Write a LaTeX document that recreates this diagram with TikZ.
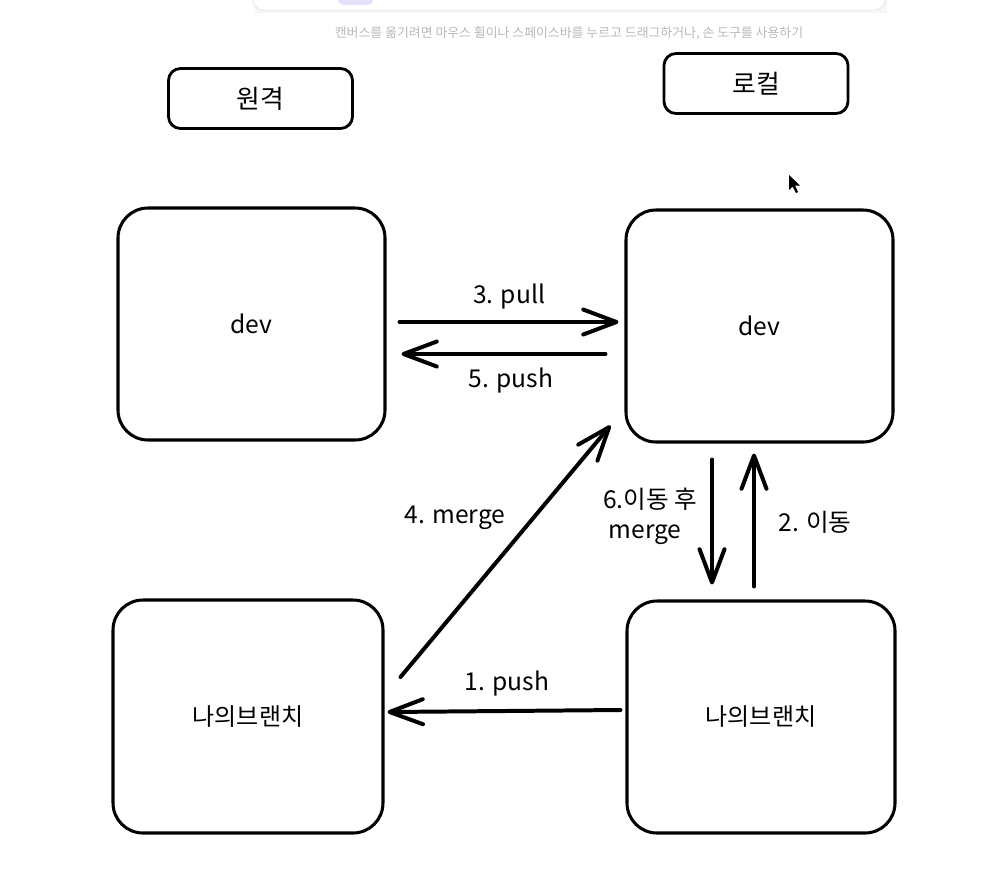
\documentclass[tikz,border=0pt]{standalone}
\usepackage{fontspec}
\setmainfont{Noto Sans CJK KR}
\usetikzlibrary{arrows.meta}
\newlength\pxu
\setlength\pxu{0.03cm}
\definecolor{hintgray}{HTML}{B8B8B8}
\definecolor{cardline}{HTML}{E8E8E8}
\definecolor{purp}{HTML}{E6E0FB}
\tikzset{
  bigbox/.style={draw=black, line width=2.6pt, rounded corners=0.9cm, inner sep=0pt, fill=white},
  smallbox/.style={draw=black, line width=2.4pt, rounded corners=0.36cm, inner sep=0pt, minimum width=184\pxu, minimum height=60\pxu},
  arr/.style={line width=3.4pt, line cap=round, -{Straight Barb[length=1.0cm, width=0.75cm, round]}},
  lbl/.style={inner sep=0pt, font=\fontsize{21pt}{24pt}\selectfont},
  boxtext/.style={font=\fontsize{20.5pt}{24pt}\selectfont},
  headtext/.style={font=\fontsize{22pt}{26pt}\selectfont}
}
\begin{document}
\begin{tikzpicture}[x=0.03cm, y=-0.03cm]
\useasboundingbox (0,0) rectangle (988,884);
% top UI card
\fill[black!3] (255,-20) rectangle (887,13);
\draw[cardline, line width=0.8pt, fill=white, rounded corners=0.3cm] (253,-20) rectangle (885,10);
\fill[purp, rounded corners=0.15cm] (338,-10) rectangle (373,5);
\node[text=hintgray, font=\fontsize{11pt}{13pt}\selectfont] (hint) at (569,33) {캔버스를 옮기려면 마우스 휠이나 스페이스바를 누르고 드래그하거나, 손 도구를 사용하기};
% header boxes
\node[smallbox, headtext] (remote) at (260.5,98.5) {원격};
\node[smallbox, headtext] (local) at (756,83.5) {로컬};
% main boxes
\node[bigbox, minimum width=267\pxu, minimum height=232\pxu, font=\fontsize{21pt}{24pt}\selectfont] (rdev) at (251.5,324) {dev};
\node[bigbox, minimum width=267\pxu, minimum height=232\pxu, font=\fontsize{21pt}{24pt}\selectfont] (ldev) at (759.5,326) {dev};
\node[bigbox, minimum width=270\pxu, minimum height=233\pxu, boxtext] (rbr) at (248,716.5) {나의브랜치};
\node[bigbox, minimum width=268\pxu, minimum height=232\pxu, boxtext] (lbr) at (761,717) {나의브랜치};
% arrows
\draw[arr] ([shift={(13,-2)}]rdev.east) -- ([shift={(-6,-4)}]ldev.west);
\draw[arr] ([shift={(-19,28)}]ldev.west) -- ([shift={(15,30)}]rdev.east);
\draw[arr] ([shift={(16,-39.5)}]rbr.east) -- ([shift={(-14,-18)}]ldev.south west);
\draw[arr] ([shift={(-47.5,16)}]ldev.south) -- ([shift={(-49,-15)}]lbr.north);
\draw[arr] ([shift={(-7,-13)}]lbr.north) -- ([shift={(-5.5,10)}]ldev.south);
\draw[arr] ([shift={(-5,-7)}]lbr.west) -- ([shift={(3,-4.5)}]rbr.east);
% labels
\node[lbl] (l3) at (509,297) {3. pull};
\node[lbl] (l5) at (511,381) {5. push};
\node[lbl] (l4) at (455,518) {4. merge};
\node[lbl] (l6a) at (650,499) {6.이동 후};
\node[lbl] (l6b) at (645,535) {merge};
\node[lbl] (l2) at (815,522) {2. 이동};
\node[lbl] (l1) at (507,684) {1. push};
% cursor
\fill[black] (789,175) -- (789,190) -- (792.5,186.5) -- (796,193) -- (798,192) -- (795,185.5) -- (800,185.5) -- cycle;
\end{tikzpicture}
\end{document}
